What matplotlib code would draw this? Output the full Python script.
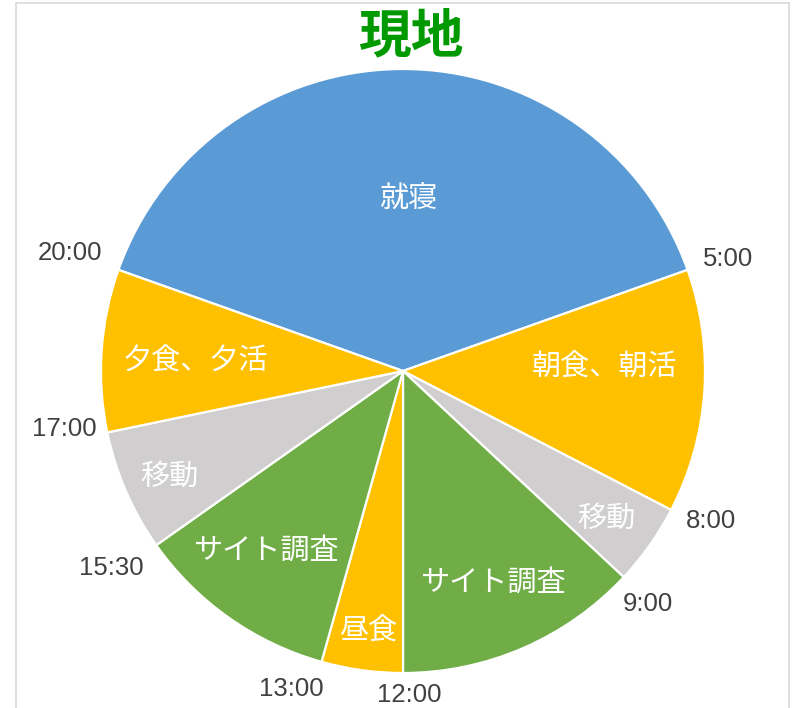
import numpy as np
import matplotlib
matplotlib.use("Agg")
from matplotlib import pyplot as plt
from matplotlib.lines import Line2D

plt.rcParams['font.family'] = ['Noto Sans CJK JP', 'DejaVu Sans']

# data: hours per activity (clockwise from 20:00)
activities = ['就寝', '朝食、朝活', '移動', 'サイト調査', '昼食', 'サイト調査', '移動', '夕食、夕活']
hours = [9, 3, 1, 3, 1, 2.5, 1.5, 2]
end_times = ['5:00', '8:00', '9:00', '12:00', '13:00', '15:30', '17:00', '20:00']

colors = ['#5B9BD5', '#FFC000', '#D0CECE', '#70AD47', '#FFC000', '#70AD47', '#D0CECE', '#FFC000']

# label placement (fraction of radius, angle nudge in degrees)
in_r = [0.583, 0.669, 0.824, 0.75, 0.857, 0.738, 0.842, 0.688]
in_nudge = [1.6, -6.2, 0, 0, 0, 2.9, 0, 0]
out_r = [1.14, 1.132, 1.115, 1.066, 1.109, 1.163, 1.138, 1.172]
out_nudge = [0.3, -1.7, 0.3, -1.2, 3.8, 1.4, 2.3, 0.2]

W, H = 798, 708
cx, cy, R = 403, 371, 302

fig = plt.figure(figsize=(W / 100, H / 100), dpi=100)
ax = fig.add_axes([0, 0, 1, 1])

total = sum(hours)
start = 90 + hours[0] / total * 180  # centre 就寝 on top
ax.pie(hours, colors=colors, startangle=start, counterclock=False, radius=1,
       wedgeprops=dict(edgecolor='white', linewidth=1.6))

ax.set_xlim(-cx / R, (W - cx) / R)
ax.set_ylim(-(H - cy) / R, cy / R)
ax.set_aspect('auto')
ax.axis('off')

# angles measured clockwise from top
cum = np.cumsum(hours)
start_cw = -hours[0] / total * 180
ends = start_cw + cum / total * 360
mids = ends - np.array(hours) / total * 180

for i, lab in enumerate(activities):
    a = np.radians(mids[i] + in_nudge[i])
    ax.text(in_r[i] * np.sin(a), in_r[i] * np.cos(a) - 4.5 / R, lab, color='white',
            fontsize=21, ha='center', va='center')

for i, t in enumerate(end_times):
    a = np.radians(ends[i] + out_nudge[i])
    ax.text(out_r[i] * np.sin(a), out_r[i] * np.cos(a) - 2 / R, t, color='#404040',
            fontsize=18.5, ha='center', va='center',
            family=['Liberation Sans', 'DejaVu Sans'])

fig.text(411 / W, 1 - 37 / H, '現地', color='#009900', fontsize=38,
         fontweight='bold', ha='center', va='center')

# chart frame
fc = '#D9D9D9'
fig.add_artist(Line2D([16 / W, 16 / W], [0, 1 - 3 / H], color=fc, lw=1.2, transform=fig.transFigure))
fig.add_artist(Line2D([789 / W, 789 / W], [0, 1 - 3 / H], color=fc, lw=1.2, transform=fig.transFigure))
fig.add_artist(Line2D([16 / W, 789 / W], [1 - 3 / H, 1 - 3 / H], color=fc, lw=1.2, transform=fig.transFigure))

fig.savefig('out.png', dpi=100, facecolor='white')
